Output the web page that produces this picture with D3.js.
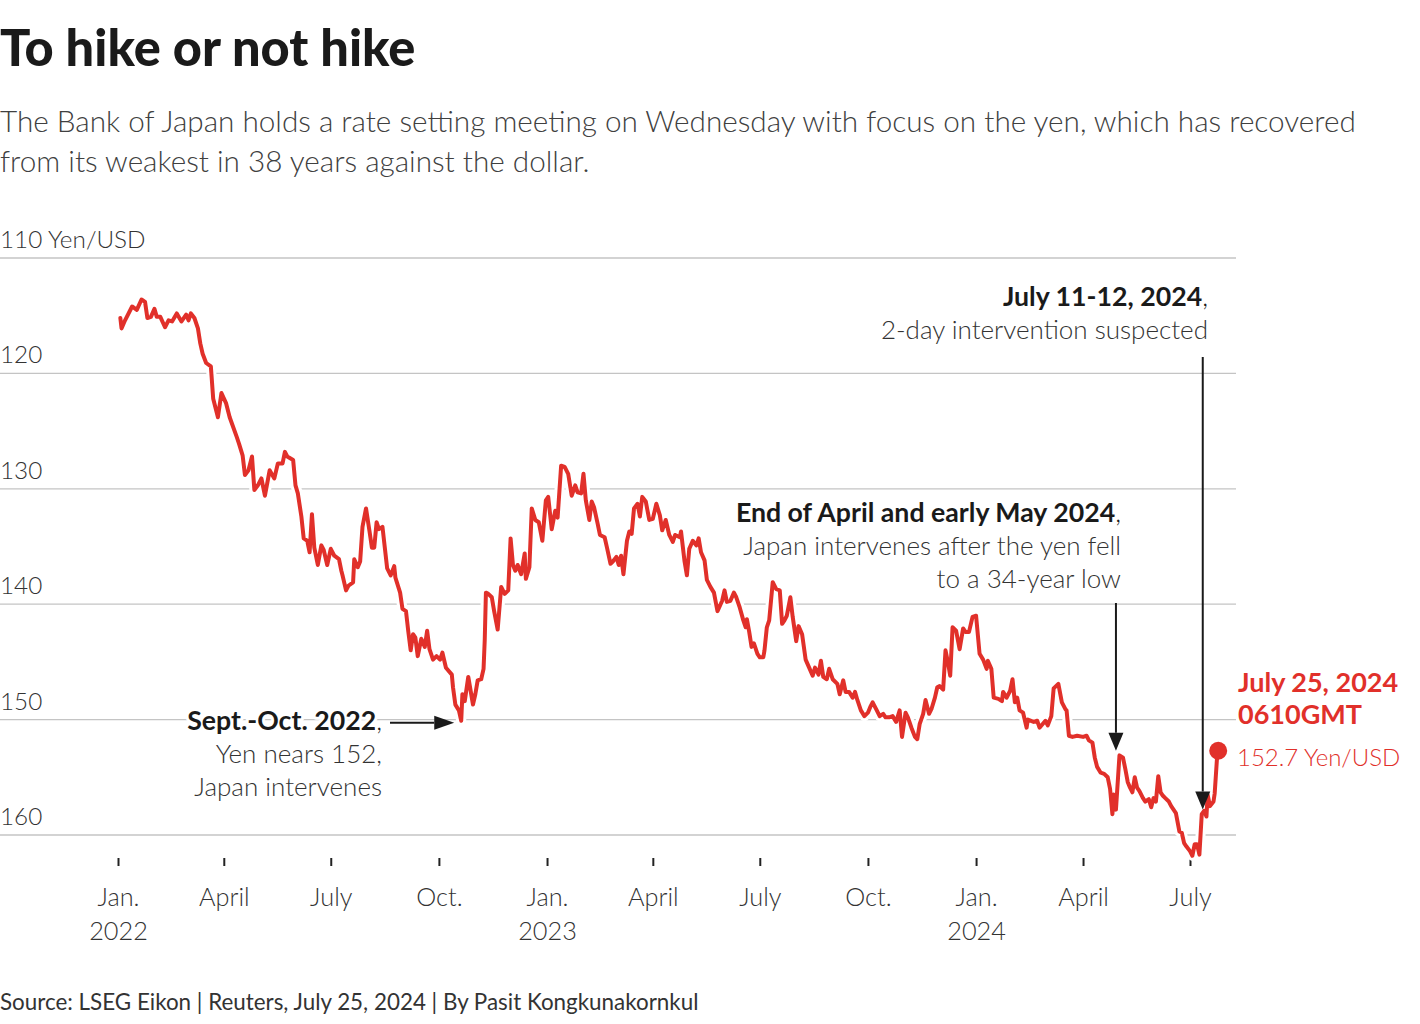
<!DOCTYPE html>
<html>
<head>
<meta charset="utf-8">
<script src="https://cdn.jsdelivr.net/npm/d3@7"></script>
<style>
  html, body { margin: 0; padding: 0; background: #fff; }
  svg { display: block; font-family: "Lato", "Open Sans", sans-serif; }
</style>
</head>
<body>
<svg id="chart" width="1420" height="1024"></svg>
<script>
// ---------------- DATA ----------------
const dates = [
"2022-01-03","2022-01-04","2022-01-07","2022-01-13","2022-01-17","2022-01-21","2022-01-24","2022-01-26","2022-01-29",
"2022-02-01","2022-02-03","2022-02-06","2022-02-10","2022-02-13","2022-02-16","2022-02-20","2022-02-24","2022-02-28",
"2022-03-02","2022-03-04","2022-03-07","2022-03-10","2022-03-12","2022-03-14","2022-03-17","2022-03-21","2022-03-23","2022-03-27","2022-03-30",
"2022-04-03","2022-04-06","2022-04-12","2022-04-14","2022-04-17","2022-04-19","2022-04-22","2022-04-25","2022-04-27","2022-04-30",
"2022-05-03","2022-05-06","2022-05-10","2022-05-14","2022-05-17","2022-05-21","2022-05-23","2022-05-25","2022-05-30",
"2022-06-01","2022-06-03","2022-06-06","2022-06-08","2022-06-11","2022-06-13","2022-06-15","2022-06-17","2022-06-20","2022-06-23","2022-06-25","2022-06-28",
"2022-07-01","2022-07-04","2022-07-08","2022-07-10","2022-07-11","2022-07-14","2022-07-16","2022-07-20","2022-07-21","2022-07-24","2022-07-26","2022-07-28","2022-07-31",
"2022-08-03","2022-08-05","2022-08-07","2022-08-09","2022-08-11","2022-08-14","2022-08-16","2022-08-18","2022-08-21","2022-08-24","2022-08-25","2022-08-29","2022-08-31",
"2022-09-03","2022-09-05","2022-09-07","2022-09-09","2022-09-11","2022-09-13","2022-09-16","2022-09-19","2022-09-21","2022-09-23","2022-09-26","2022-09-29",
"2022-10-02","2022-10-04","2022-10-07","2022-10-12","2022-10-13","2022-10-15","2022-10-18","2022-10-20","2022-10-21","2022-10-23","2022-10-26","2022-10-30",
"2022-11-01","2022-11-03","2022-11-06","2022-11-08","2022-11-09","2022-11-10","2022-11-12","2022-11-15","2022-11-17","2022-11-20","2022-11-23","2022-11-26","2022-11-29",
"2022-12-01","2022-12-03","2022-12-05","2022-12-07","2022-12-10","2022-12-13","2022-12-14","2022-12-17","2022-12-19","2022-12-22","2022-12-25","2022-12-28","2022-12-31",
"2023-01-02","2023-01-05","2023-01-08","2023-01-10","2023-01-13","2023-01-16","2023-01-19","2023-01-22","2023-01-25","2023-01-27","2023-01-30",
"2023-02-01","2023-02-03","2023-02-06","2023-02-08","2023-02-10","2023-02-13","2023-02-15","2023-02-19","2023-02-21","2023-02-24","2023-02-26",
"2023-03-01","2023-03-03","2023-03-05","2023-03-07","2023-03-10","2023-03-12","2023-03-14","2023-03-16","2023-03-19","2023-03-21","2023-03-23","2023-03-26","2023-03-29",
"2023-04-01","2023-04-04","2023-04-07","2023-04-09","2023-04-12","2023-04-15","2023-04-18","2023-04-20","2023-04-24","2023-04-25","2023-04-28","2023-04-30",
"2023-05-02","2023-05-05","2023-05-08","2023-05-10","2023-05-12","2023-05-15","2023-05-17","2023-05-20","2023-05-23","2023-05-26","2023-05-30",
"2023-06-01","2023-06-03","2023-06-06","2023-06-09","2023-06-11","2023-06-14","2023-06-17","2023-06-19","2023-06-20","2023-06-22","2023-06-24","2023-06-26","2023-06-29",
"2023-07-01","2023-07-04","2023-07-05","2023-07-07","2023-07-09","2023-07-12","2023-07-15","2023-07-18","2023-07-20","2023-07-22","2023-07-24","2023-07-27","2023-07-29",
"2023-08-01","2023-08-03","2023-08-06","2023-08-09","2023-08-12","2023-08-15","2023-08-17","2023-08-20","2023-08-22","2023-08-24","2023-08-27","2023-08-29",
"2023-09-01","2023-09-05","2023-09-07","2023-09-10","2023-09-12","2023-09-15","2023-09-18","2023-09-20","2023-09-22","2023-09-25","2023-09-28",
"2023-10-01","2023-10-03","2023-10-05","2023-10-08","2023-10-11","2023-10-14","2023-10-16","2023-10-19","2023-10-22","2023-10-25","2023-10-28","2023-10-30",
"2023-11-02","2023-11-04","2023-11-07","2023-11-10","2023-11-12","2023-11-14","2023-11-17","2023-11-19","2023-11-22","2023-11-24","2023-11-27","2023-11-29",
"2023-12-01","2023-12-04","2023-12-06","2023-12-08","2023-12-10","2023-12-12","2023-12-15","2023-12-18","2023-12-21","2023-12-23","2023-12-26","2023-12-29",
"2024-01-01","2024-01-04","2024-01-07","2024-01-10","2024-01-11","2024-01-14","2024-01-16","2024-01-20","2024-01-23","2024-01-24","2024-01-27","2024-01-30",
"2024-02-01","2024-02-03","2024-02-05","2024-02-07","2024-02-10","2024-02-13","2024-02-14","2024-02-19","2024-02-22","2024-02-24","2024-02-29",
"2024-03-02","2024-03-05","2024-03-07","2024-03-11","2024-03-14","2024-03-17","2024-03-18","2024-03-20","2024-03-23","2024-03-27",
"2024-04-01","2024-04-04","2024-04-06","2024-04-09","2024-04-11","2024-04-13","2024-04-16","2024-04-19","2024-04-22","2024-04-24","2024-04-26","2024-04-27","2024-04-29",
"2024-05-02","2024-05-05","2024-05-07","2024-05-09","2024-05-11","2024-05-13","2024-05-15","2024-05-17","2024-05-19","2024-05-22","2024-05-24","2024-05-27","2024-05-29","2024-05-31",
"2024-06-02","2024-06-04","2024-06-06","2024-06-08","2024-06-10","2024-06-13","2024-06-15","2024-06-19","2024-06-22","2024-06-24","2024-06-26","2024-06-28",
"2024-07-01","2024-07-03","2024-07-05","2024-07-07","2024-07-09","2024-07-11","2024-07-13","2024-07-15","2024-07-16","2024-07-18","2024-07-21","2024-07-22","2024-07-24","2024-07-25"
];
const values = [
115.2,116.1,115.4,114.2,114.5,113.6,113.8,115.2,115.1,
114.4,115.1,115.1,116.0,115.4,115.5,114.8,115.5,114.9,
115.4,114.8,115.2,116.1,117.4,118.3,119.1,119.4,122.2,123.8,121.7,
122.6,123.8,125.5,126.1,127.1,128.8,128.4,127.2,130.1,129.7,
129.1,130.6,128.4,129.1,127.8,127.8,126.8,127.2,127.5,
129.7,130.4,132.4,134.3,134.5,135.5,132.2,135.1,136.6,134.9,135.3,136.6,
135.2,135.8,136.1,137.1,137.5,138.8,138.4,138.1,136.1,136.8,136.3,133.3,131.7,
133.7,135.1,135.1,132.9,133.5,133.3,135.1,136.9,137.5,136.7,137.7,139.0,140.4,
140.6,142.4,144.0,142.6,142.9,144.5,143.0,143.7,142.3,143.9,144.8,144.5,
144.8,144.2,145.5,146.1,147.2,148.7,149.2,150.1,147.8,148.4,146.3,148.7,
147.8,146.6,146.5,145.6,143.1,139.0,139.1,139.4,140.6,142.2,138.5,139.1,138.8,
134.3,136.6,137.1,136.6,137.4,135.6,137.8,136.8,131.7,132.7,132.9,134.5,131.0,
130.7,133.5,131.9,132.5,128.0,128.1,128.7,130.6,129.7,130.3,130.4,
128.7,131.0,132.7,131.1,131.6,133.0,134.0,134.2,135.1,136.5,136.3,
135.9,136.6,135.8,137.4,134.5,133.7,133.9,131.7,131.3,132.4,130.7,131.1,132.7,
132.6,131.3,132.3,133.6,132.7,134.0,134.6,134.0,134.2,133.7,136.3,137.5,
135.2,134.5,134.9,134.3,135.5,136.2,137.9,138.5,139.0,140.6,139.7,
138.8,139.8,139.7,139.0,139.4,140.3,141.4,142.0,141.3,142.4,143.7,143.4,144.3,
144.6,144.6,144.0,142.0,141.4,138.1,138.7,138.8,141.7,141.4,141.0,139.4,141.1,
143.2,141.9,142.6,144.8,145.5,146.2,145.5,146.1,144.9,146.3,146.5,145.6,
146.5,146.9,147.8,146.6,147.6,147.6,148.1,147.6,148.3,149.2,149.7,
149.4,148.9,148.5,149.1,149.7,149.5,149.8,149.8,149.7,150.2,149.2,151.5,
149.4,149.8,150.7,151.5,151.7,150.4,149.5,148.3,149.5,149.1,148.1,147.2,
147.1,147.4,144.0,145.0,146.2,142.0,142.3,143.9,142.1,142.4,142.4,141.1,
141.0,144.3,144.8,145.6,144.9,145.6,148.1,148.2,148.4,147.6,148.1,147.5,
146.5,148.5,148.1,149.2,149.4,150.7,150.0,150.2,150.1,150.7,150.1,
150.5,149.7,147.3,146.9,148.5,149.1,149.2,151.4,151.5,151.4,
151.5,151.4,151.8,152.0,153.3,154.1,154.6,154.7,155.0,156.0,158.2,156.5,157.8,
153.1,153.3,154.3,155.4,155.9,156.3,155.0,155.9,156.2,156.8,157.1,156.9,157.6,156.8,
157.1,154.9,156.3,156.6,156.8,157.1,157.5,158.1,159.7,159.8,160.7,161.0,
161.4,161.8,160.8,160.8,161.7,158.2,157.9,158.4,156.5,157.5,157.1,156.4,153.3,152.7
];

const yTicks = [110, 120, 130, 140, 150, 160];
const yUnit = " Yen/USD";
const tickDates = ["2022-01-01","2022-04-01","2022-07-01","2022-10-01","2023-01-01","2023-04-01","2023-07-01","2023-10-01","2024-01-01","2024-04-01","2024-07-01"];
const tickLine1 = ["Jan.","April","July","Oct.","Jan.","April","July","Oct.","Jan.","April","July"];
const tickLine2 = ["2022","","","","2023","","","","2024","",""];

const title = "To hike or not hike";
const subtitleLines = [
  "The Bank of Japan holds a rate setting meeting on Wednesday with focus on the yen, which has recovered",
  "from its weakest in 38 years against the dollar."
];
const source = "Source: LSEG Eikon | Reuters, July 25, 2024 | By Pasit Kongkunakornkul";

const annoSept = { date: "2022-10-20", value: 150.1, bold: "Sept.-Oct. 2022", lines: ["Yen nears 152,", "Japan intervenes"] };
const annoApril = { date: "2024-04-29", value: 152.7, bold: "End of April and early May 2024", lines: ["Japan intervenes after the yen fell", "to a 34-year low"] };
const annoJuly = { date: "2024-07-11", value: 157.8, bold: "July 11-12, 2024", lines: ["2-day intervention suspected"] };
const lastLabel = ["July 25, 2024", "0610GMT"];
const lastValueLabel = "152.7 Yen/USD";

// ---------------- CHART ----------------
const RED = "#e1302a";
const parse = d3.timeParse("%Y-%m-%d");
const data = dates.map((d, i) => ({ date: parse(d), value: values[i] }));

const svg = d3.select("#chart");
const x = d3.scaleTime()
  .domain([parse("2022-01-01"), parse("2024-07-01")])
  .range([118, 1190]);
const y = d3.scaleLinear().domain([110, 160]).range([258, 835]);

// Title + subtitle
svg.append("text").attr("x", 0).attr("y", 66)
  .attr("font-size", 50.5).attr("font-weight", 900).attr("fill", "#1a1a1a")
  .text(title);
svg.selectAll("text.sub").data(subtitleLines).join("text")
  .attr("class", "sub").attr("x", 0).attr("y", (d, i) => 132 + i * 40)
  .attr("font-size", 29.7).attr("font-weight", 300).attr("fill", "#404040")
  .text(d => d);

// Gridlines + y labels
const grid = svg.append("g");
grid.selectAll("line").data(yTicks).join("line")
  .attr("x1", 0).attr("x2", 1236)
  .attr("y1", d => y(d)).attr("y2", d => y(d))
  .attr("stroke", "#c4c4c4").attr("stroke-width", 1.3);
grid.selectAll("text").data(yTicks).join("text")
  .attr("x", 0).attr("y", d => y(d) - 10)
  .attr("font-size", 24.3).attr("font-weight", 300).attr("fill", "#333")
  .text((d, i) => i === 0 ? d + yUnit : d);

// X axis
const xAxis = d3.axisBottom(x)
  .tickValues(tickDates.map(parse))
  .tickSize(8)
  .tickFormat((d, i) => tickLine1[i]);
const gx = svg.append("g").attr("transform", "translate(0,858)").call(xAxis);
gx.select(".domain").remove();
gx.selectAll(".tick line").attr("stroke", "#222").attr("stroke-width", 2);
gx.selectAll(".tick text")
  .attr("y", 48).attr("dy", null)
  .attr("font-family", "Lato, sans-serif")
  .attr("font-size", 25.3).attr("font-weight", 300).attr("fill", "#333")
  .each(function(d, i) {
    if (tickLine2[i]) {
      d3.select(this).append("tspan").attr("x", 0).attr("dy", 34).text(tickLine2[i]);
    }
  });

// Line with white halo
const line = d3.line().x(d => x(d.date)).y(d => y(d.value)).curve(d3.curveLinear);
svg.append("path").datum(data).attr("d", line)
  .attr("fill", "none").attr("stroke", "#fff").attr("stroke-width", 10)
  .attr("stroke-linejoin", "round");
svg.append("path").datum(data).attr("d", line)
  .attr("fill", "none").attr("stroke", RED).attr("stroke-width", 4)
  .attr("stroke-linejoin", "round").attr("stroke-linecap", "round");

// End dot
const last = data[data.length - 1];
svg.append("circle").attr("cx", x(last.date)).attr("cy", y(last.value)).attr("r", 9).attr("fill", RED);

function arrow(x1, y1, x2, y2, headLen, headW) {
  const g = svg.append("g");
  const ang = Math.atan2(y2 - y1, x2 - x1);
  const bx = x2 - headLen * Math.cos(ang), by = y2 - headLen * Math.sin(ang);
  g.append("line").attr("x1", x1).attr("y1", y1).attr("x2", bx).attr("y2", by)
    .attr("stroke", "#1a1a1a").attr("stroke-width", 2);
  const px = -Math.sin(ang) * headW / 2, py = Math.cos(ang) * headW / 2;
  g.append("path")
    .attr("d", `M${x2},${y2} L${bx + px},${by + py} L${bx - px},${by - py} Z`)
    .attr("fill", "#1a1a1a");
}

function annotation(xr, yTop, a, lineGap) {
  const t = svg.append("text").attr("x", xr).attr("y", yTop)
    .attr("text-anchor", "end").attr("font-size", 26.7).attr("fill", "#1a1a1a")
    .attr("stroke", "#fff").attr("stroke-width", 6).attr("paint-order", "stroke")
    .attr("stroke-linejoin", "round");
  t.append("tspan").attr("font-weight", 700).text(a.bold);
  t.append("tspan").attr("font-weight", 300).text(",");
  a.lines.forEach((l, i) => {
    svg.append("text").attr("x", xr).attr("y", yTop + (i + 1) * lineGap)
      .attr("text-anchor", "end").attr("font-size", 26).attr("font-weight", 300).attr("fill", "#333")
      .attr("stroke", "#fff").attr("stroke-width", 6).attr("paint-order", "stroke")
      .attr("stroke-linejoin", "round")
      .text(l);
  });
}

// Sept-Oct 2022
annotation(382, 730, annoSept, 33);
arrow(390, y(annoSept.value) + 2, x(parse(annoSept.date)) - 7, y(annoSept.value) + 2, 20, 14);

// End of April 2024
annotation(1121, 522, annoApril, 33);
arrow(x(parse(annoApril.date)), 603, x(parse(annoApril.date)), y(annoApril.value), 18, 15);

// July 11-12 2024
annotation(1208, 306, annoJuly, 33);
arrow(x(parse(annoJuly.date)) + 1, 357, x(parse(annoJuly.date)) + 1, y(annoJuly.value), 18, 15);

// Last value labels
svg.selectAll("text.lastl").data(lastLabel).join("text")
  .attr("class", "lastl").attr("x", 1238).attr("y", (d, i) => 692 + i * 32)
  .attr("font-size", 27).attr("font-weight", 700).attr("fill", RED)
  .text(d => d);
svg.append("text").attr("x", 1237).attr("y", 766)
  .attr("font-size", 24).attr("font-weight", 300).attr("fill", RED)
  .text(lastValueLabel);

// Source
svg.append("text").attr("x", 0).attr("y", 1010)
  .attr("font-size", 22.4).attr("font-weight", 400).attr("fill", "#333")
  .text(source);
</script>
</body>
</html>
